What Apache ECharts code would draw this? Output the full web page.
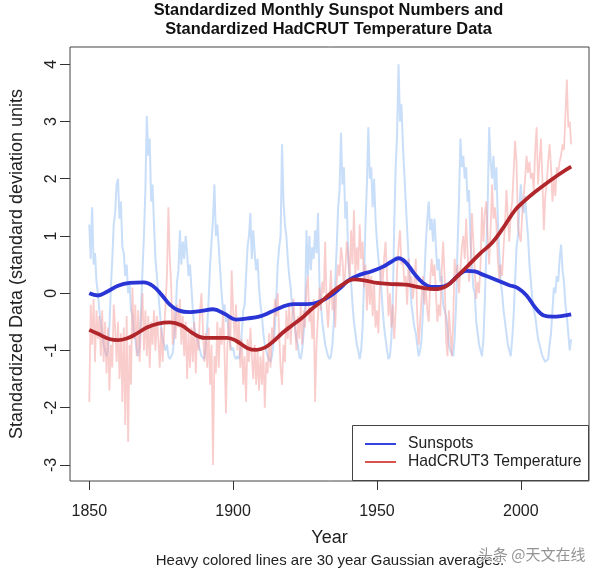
<!DOCTYPE html>
<html>
<head>
<meta charset="utf-8">
<script src="https://cdn.jsdelivr.net/npm/echarts@6/dist/echarts.min.js"></script>
<style>html,body{margin:0;padding:0;background:#fff}#c{width:599px;height:574px}</style>
</head>
<body>
<div id="c"></div>
<script>
// ---- data ----
const rawStartYear = 1850;
const rawStep = 0.5;
// standardized sunspot numbers, twice a year 1850.0 .. 2017.5
const sunspotRaw = [
 1.2,0.6, 1.5,0.5, 0.7,0.2, 0.0,-0.3, -0.5,-0.7, -0.9,-1.0, -1.1,-1.0, -0.6,0.1, 0.6,1.2, 1.4,1.9,
 2.0,1.3, 1.6,0.8, 0.7,0.3, 0.5,0.0, 0.2,-0.3, -0.4,-0.7, -0.8,-1.0, -1.1,-0.9, -0.3,0.4, 1.0,1.8,
 3.1,2.4, 2.7,1.6, 1.9,1.2, 0.6,0.3, 0.0,-0.3, -0.6,-0.8, -0.9,-1.0, -0.9,-1.1, -1.15,-1.1, -1.05,-0.8,
 -0.4,0.2, 0.4,1.1, 0.5,0.9, 0.6,1.0, 0.7,0.3, 0.5,0.1, -0.3,-0.6, -0.7,-0.8, -0.9,-1.0, -1.1,-1.1,
 -1.15,-0.9, -0.6,-0.1, 0.5,0.9, 1.3,1.9, 1.0,1.2, 0.8,0.4, 0.0,-0.3, -0.2,-0.5, -0.4,-0.7, -0.9,-1.0,
 -0.95,-1.1, -1.15,-1.1, -1.15,-1.0, -0.7,-0.3, -0.2,0.3, 0.8,1.0, 1.4,0.6, 1.1,0.7, 0.4,0.6, 0.1,-0.2,
 -0.4,-0.7, -0.9,-1.0, -1.1,-1.15, -1.2,-1.1, -0.9,-0.6, -0.1,0.5, 0.8,1.0, 2.6,1.6, 1.2,1.0, 0.6,0.3,
 0.1,-0.2, -0.4,-0.6, -0.8,-0.9, -1.1,-1.15, -1.0,-0.7, -0.3,1.1, 0.3,1.0, 0.4,0.8, 0.6,1.1, 0.7,1.4,
 0.2,-0.2, -0.5,-0.7, -0.9,-1.0, -1.1,-1.15, -1.1,-0.9, -0.5,0.2, 0.8,1.5, 1.8,2.8, 1.9,2.2, 1.3,1.6,
 0.6,0.3, 0.2,-0.2, -0.5,-0.7, -0.9,-1.0, -1.15,-1.0, -0.6,0.2, 1.2,1.9, 2.9,2.0, 2.2,1.5, 2.0,1.3,
 0.9,0.6, 0.4,0.1, -0.3,-0.6, -0.8,-1.0, -1.15,-1.1, -0.8,-0.1, 1.2,2.2, 2.8,4.0, 3.0,3.3, 2.6,2.1,
 1.6,1.1, 0.6,0.2, -0.2,-0.4, -0.6,-0.7, -0.9,-1.1, -1.0,-0.8, -0.3,0.3, 0.9,1.3, 1.6,1.1, 1.3,0.9,
 1.3,0.8, 0.4,0.6, 0.2,0.3, -0.2,-0.3, -0.4,-0.6, -0.9,-1.0, -1.05,-1.1, -0.8,-0.2, 0.8,1.6, 2.7,2.2,
 2.4,2.0, 2.2,1.6, 1.8,0.9, 0.5,0.1, 0.0,-0.5, -0.7,-0.9, -1.0,-1.1, -0.8,-0.1, 0.7,1.6, 2.9,2.3,
 2.0,2.4, 1.8,2.2, 1.3,0.7, 0.2,0.0, -0.3,-0.5, -0.7,-0.9, -1.0,-1.1, -0.8,-0.4, 0.2,0.8, 1.0,1.5,
 1.9,1.5, 1.4,1.7, 1.3,1.0, 0.5,0.2, -0.1,-0.3, -0.4,-0.6, -0.8,-0.9, -1.0,-1.1, -1.15,-1.2, -1.2,-1.15,
 -0.9,-0.7, -0.3,0.1, 0.0,0.3, 0.2,0.6, 0.85,0.4, 0.2,-0.2, -0.4,-0.7, -1.0,-0.8
];
// standardized HadCRUT3 temperature, twice a year 1850.0 .. 2017.5
const temperatureRaw = [
 -1.9,-0.2, -0.9,-0.1, -1.2,-0.3, -0.8,-0.4, -1.1,-0.3, -1.2,-0.5, -1.4,-0.6, -1.7,-0.9, -1.3,-0.2, -0.6,-1.2,
 -0.5,-1.5, -0.7,-1.9, -0.6,-2.3, -0.4,-2.6, -0.9,-1.6, 0.1,-0.8, -0.2,-1.1, -0.3,-1.2, -0.5,0.0, -1.0,-0.3,
 -1.1,-0.4, -1.3,-0.5, -0.9,-0.3, -1.0,-0.4, -0.8,-1.3, -0.6,-1.2, -0.7,-0.2, 0.3,1.5, 0.6,0.1, -0.9,-0.3,
 -0.8,-0.2, -0.6,-0.1, -0.9,-0.4, -1.1,-0.5, -1.5,-0.7, -1.3,-0.6, -1.2,-0.5, -1.4,-0.7, -1.0,-0.3, 0.0,-0.6,
 -1.2,-0.7, -1.3,-0.6, -1.6,-0.9, -3.0,-1.1, -1.4,-0.5, -1.3,-0.6, -0.9,-0.3, -1.0,-2.1, -0.9,-0.4, -1.0,0.4,
 -0.3,-0.8, -0.2,-1.0, -0.5,-1.3, -0.8,-1.6, -1.1,-1.9, -0.8,-1.2, -0.6,-1.1, -1.5,-0.9, -1.6,-1.0, -1.7,-1.1,
 -1.6,-1.0, -2.0,-1.2, -1.4,-0.7, -1.3,-0.6, -0.8,-0.1, -0.4,0.0, -0.7,-1.3, -1.6,-0.9, -1.2,-0.3, -0.8,-0.2,
 -0.9,-0.4, -0.1,-0.6, -1.0,-0.4, -0.8,-0.2, -0.9,-0.3, -0.6,0.1, 0.3,-0.5, -0.3,-0.8, -0.1,-1.9, -0.9,-0.4,
 0.1,-0.3, 0.2,0.0, 0.9,-0.2, -0.6,-0.1, 0.4,-0.3, 0.0,-0.6, 0.2,0.5, 0.3,0.8, 0.6,0.1, 0.4,0.9,
 0.7,0.2, 1.1,0.5, 1.45,0.3, 0.8,0.4, 1.2,0.6, 0.9,0.1, 0.5,-0.3, 0.4,-0.2, 0.3,-0.4, 0.2,-0.6,
 -0.3,-0.7, 0.1,0.5, 0.2,0.6, 0.9,0.3, -0.4,0.0, -0.6,-0.2, -0.8,-0.3, 0.4,0.8, 1.1,0.5, 0.6,0.2,
 0.3,-0.2, 0.6,0.1, 0.3,-0.1, 0.2,0.6, -0.4,-0.9, -0.5,-0.1, 0.3,-0.2, 0.1,-0.3, -0.5,0.2, 0.6,0.3,
 0.5,0.0, -0.5,-0.2, -0.4,0.4, 0.9,0.3, -0.8,-1.1, -0.3,-0.7, -1.1,-0.5, 0.6,0.2, 0.5,0.0, 0.4,0.8,
 1.0,0.6, 1.3,0.7, 0.2,0.5, 1.4,0.9, 0.4,-0.1, 0.2,0.0, 0.5,1.5, 0.9,1.4, 1.6,1.0, 0.5,1.1,
 1.9,1.3, 1.5,1.2, 0.6,0.2, 0.5,0.3, 0.8,1.2, 1.8,1.3, 0.9,1.4, 1.6,2.1, 2.66,2.3, 1.2,1.0,
 0.9,1.4, 1.7,2.0, 2.4,2.1, 2.3,2.0, 2.1,1.8, 2.5,2.9, 1.9,2.3, 2.7,2.0, 1.1,1.7, 1.9,2.3,
 2.6,2.2, 1.6,2.0, 1.7,2.2, 2.1,2.3, 2.4,2.6, 2.5,3.1, 3.73,2.9, 3.0,2.6
];
// 30-year Gaussian averages (heavy lines)
const sunspotSmoothYears = [1850,1853,1856,1860,1864,1869,1872,1875,1878,1881,1885,1889,1893,1897,1901,1905,1909,1913,1917,1921,1926,1930,1934,1937,1940,1944,1948,1952,1955,1957.5,1960,1963,1966,1969,1972,1975,1978,1981,1984,1987,1990,1993,1996,1999,2002,2005,2008,2011,2014,2017.5];
const sunspotSmooth = [0.0,-0.04,0.02,0.13,0.18,0.19,0.13,-0.02,-0.2,-0.3,-0.33,-0.31,-0.28,-0.36,-0.46,-0.44,-0.41,-0.33,-0.24,-0.19,-0.19,-0.15,-0.04,0.08,0.22,0.32,0.38,0.46,0.55,0.61,0.54,0.34,0.18,0.11,0.11,0.16,0.3,0.39,0.38,0.32,0.26,0.2,0.14,0.09,-0.04,-0.25,-0.39,-0.41,-0.4,-0.37];
const tempSmoothYears = [1850,1853,1857,1860,1863,1866,1870,1874,1878,1882,1886,1890,1894,1898,1901,1905,1908,1911,1914,1917,1920,1924,1927,1931,1934,1938,1942,1946,1950,1955,1960,1965,1970,1974,1978,1982,1986,1990,1994,1998,2001,2005,2010,2014,2017.5];
const tempSmooth = [-0.64,-0.71,-0.8,-0.82,-0.79,-0.72,-0.6,-0.53,-0.51,-0.56,-0.7,-0.78,-0.78,-0.78,-0.83,-0.96,-0.99,-0.95,-0.84,-0.7,-0.58,-0.43,-0.29,-0.13,0.0,0.15,0.24,0.22,0.18,0.16,0.15,0.1,0.07,0.12,0.3,0.5,0.7,0.88,1.15,1.45,1.6,1.77,1.96,2.1,2.21];
const xTicks = [1850, 1900, 1950, 2000];
const yTicks = [-3, -2, -1, 0, 1, 2, 3, 4];
const seriesNames = ['Sunspots', 'HadCRUT3 Temperature'];
const legendColors = ['#3344dd', '#d9534f'];

// ---- build ----
const pairs = (vals) => vals.map((v, i) => [rawStartYear + i * rawStep, v]);
const zip = (xs, ys) => xs.map((x, i) => [x, ys[i]]);
const FONT = '"Liberation Sans", Arial, Helvetica, sans-serif';

const legendGraphic = [
  {type: 'rect', shape: {x: 352.5, y: 425.5, width: 236, height: 55}, style: {fill: '#fff', stroke: '#444', lineWidth: 1}, z: 50, silent: true}
];
seriesNames.forEach((n, i) => {
  const yy = 444 + i * 18;
  legendGraphic.push({type: 'line', shape: {x1: 365, y1: yy, x2: 396, y2: yy}, style: {stroke: legendColors[i], lineWidth: 2}, z: 51, silent: true});
  legendGraphic.push({type: 'text', x: 408, y: yy, z: 51, silent: true, style: {text: n, font: '15.7px ' + FONT, fill: '#222', align: 'left', verticalAlign: 'middle'}});
});

const chart = echarts.init(document.getElementById('c'), null, {renderer: 'canvas'});
chart.setOption({
  animation: false,
  backgroundColor: '#ffffff',
  textStyle: {fontFamily: FONT},
  grid: {left: 68, right: 10, top: 47, bottom: 93, show: true, borderColor: '#444', borderWidth: 1, backgroundColor: 'transparent'},
  xAxis: {
    type: 'value', min: 1843.3, max: 2023.7,
    name: 'Year', nameLocation: 'middle', nameGap: 48,
    nameTextStyle: {fontSize: 18, color: '#222', fontFamily: FONT},
    axisLine: {show: false, onZero: false},
    axisTick: {show: true, inside: false, length: 9, customValues: xTicks, lineStyle: {color: '#333', width: 1}},
    axisLabel: {customValues: xTicks, fontSize: 16, color: '#222', margin: 23, fontFamily: FONT, formatter: (v) => String(Math.round(v))},
    splitLine: {show: false}
  },
  yAxis: {
    type: 'value', min: -3.28, max: 4.3,
    name: 'Standardized Data (standard deviation units', nameLocation: 'middle', nameGap: 44, nameRotate: 90,
    nameTextStyle: {fontSize: 18, color: '#222', fontFamily: FONT},
    axisLine: {show: false, onZero: false},
    axisTick: {show: true, inside: false, length: 10, customValues: yTicks, lineStyle: {color: '#333', width: 1}},
    axisLabel: {customValues: yTicks, fontSize: 16, color: '#222', rotate: 90, margin: 10, fontFamily: FONT, formatter: (v) => String(Math.round(v))},
    splitLine: {show: false}
  },
  series: [
    {name: 'sunspot-raw', type: 'line', data: pairs(sunspotRaw), showSymbol: false, symbol: 'none',
     lineStyle: {color: 'rgba(165,200,245,0.6)', width: 2}, itemStyle: {color: 'rgba(165,200,245,0.6)'}, z: 1, silent: true},
    {name: 'temp-raw', type: 'line', data: pairs(temperatureRaw), showSymbol: false, symbol: 'none',
     lineStyle: {color: 'rgba(245,150,150,0.48)', width: 1.8}, itemStyle: {color: 'rgba(245,150,150,0.48)'}, z: 2, silent: true},
    {name: seriesNames[0], type: 'line', data: zip(sunspotSmoothYears, sunspotSmooth), smooth: 0.4, showSymbol: false, symbol: 'none',
     lineStyle: {color: '#2a35d6', width: 3.8}, itemStyle: {color: legendColors[0]}, z: 3},
    {name: seriesNames[1], type: 'line', data: zip(tempSmoothYears, tempSmooth), smooth: 0.4, showSymbol: false, symbol: 'none',
     lineStyle: {color: '#b0262a', width: 3.8}, itemStyle: {color: legendColors[1]}, z: 4}
  ],
  graphic: [
    {type: 'text', x: 328.5, y: 0.5, silent: true, style: {text: 'Standardized Monthly Sunspot Numbers and\nStandardized HadCRUT Temperature Data', font: 'bold 16.4px ' + FONT, fill: '#111', align: 'center', verticalAlign: 'top', lineHeight: 19}},
    ...legendGraphic,
    {type: 'text', x: 330, y: 561, silent: true, style: {text: 'Heavy colored lines are 30 year Gaussian averages.', font: '15px ' + FONT, fill: '#222', align: 'center', verticalAlign: 'middle'}},
    {type: 'text', x: 478, y: 554, silent: true, z: 100, style: {text: '头条 @天文在线', font: '15px "Noto Sans CJK SC", sans-serif', fill: 'rgba(110,110,110,0.75)', stroke: 'rgba(255,255,255,0.8)', lineWidth: 2, align: 'left', verticalAlign: 'middle'}}
  ]
});
</script>
</body>
</html>
